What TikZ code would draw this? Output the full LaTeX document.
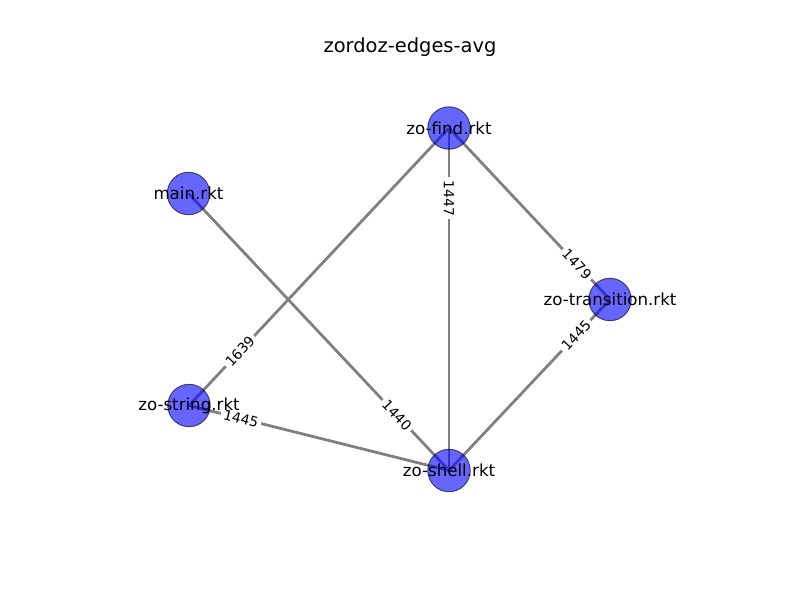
\documentclass[tikz,border=0pt]{standalone}
\usepackage{fontspec}
\setmainfont{DejaVu Sans}
\usepackage{tikz}

\begin{document}
\begin{tikzpicture}[x=0.72pt,y=-0.72pt,
  filenode/.style={circle,minimum size=30.6pt,inner sep=0pt,fill={rgb,255:red,0;green,0;blue,255},fill opacity=0.6,draw=black,draw opacity=0.6,line width=0.7pt},
  edgeline/.style={draw={rgb,255:red,128;green,128;blue,128},line width=2pt},
  weightlabel/.style={fill=white,inner sep=2.2pt,font=\fontsize{10}{12}\selectfont,sloped},
  filelabel/.style={font=\fontsize{12}{14}\selectfont}]
\useasboundingbox[fill=white] (0.000000,0.000000) rectangle (800.000000,600.000000);
% Title
\node[font=\fontsize{14}{17}\selectfont] (title) at (410.000000,47.000000) {zordoz-edges-avg};
% Node positions
\coordinate (find) at (449.000000,128.000000);
\coordinate (main) at (188.500000,193.500000);
\coordinate (transition) at (610.000000,299.500000);
\coordinate (string) at (189.000000,405.500000);
\coordinate (shell) at (449.000000,470.500000);
% Drawing edges
\draw[edgeline] (find) -- (shell) node[weightlabel,pos=0.205] (w1447) {1447};
\draw[edgeline] (find) -- (transition) node[weightlabel,pos=0.795] (w1479) {1479};
\draw[edgeline] (string) -- (find) node[weightlabel,pos=0.196] (w1639) {1639};
\draw[edgeline] (main) -- (shell) node[weightlabel,pos=0.8] (w1440) {1440};
\draw[edgeline] (string) -- (shell) node[weightlabel,pos=0.2] (w1445a) {1445};
\draw[edgeline] (transition) -- (shell) node[weightlabel,pos=0.21] (w1445b) {1445};
% Drawing nodes
\node[filenode] (nfind) at (find) {};
\node[filenode] (nmain) at (main) {};
\node[filenode] (ntransition) at (transition) {};
\node[filenode] (nstring) at (string) {};
\node[filenode] (nshell) at (shell) {};
% Drawing node labels
\node[filelabel] (lfind) at (find) {zo-find.rkt};
\node[filelabel] (lmain) at (main) {main.rkt};
\node[filelabel] (ltransition) at (transition) {zo-transition.rkt};
\node[filelabel] (lstring) at (string) {zo-string.rkt};
\node[filelabel] (lshell) at (shell) {zo-shell.rkt};
\end{tikzpicture}
\end{document}
